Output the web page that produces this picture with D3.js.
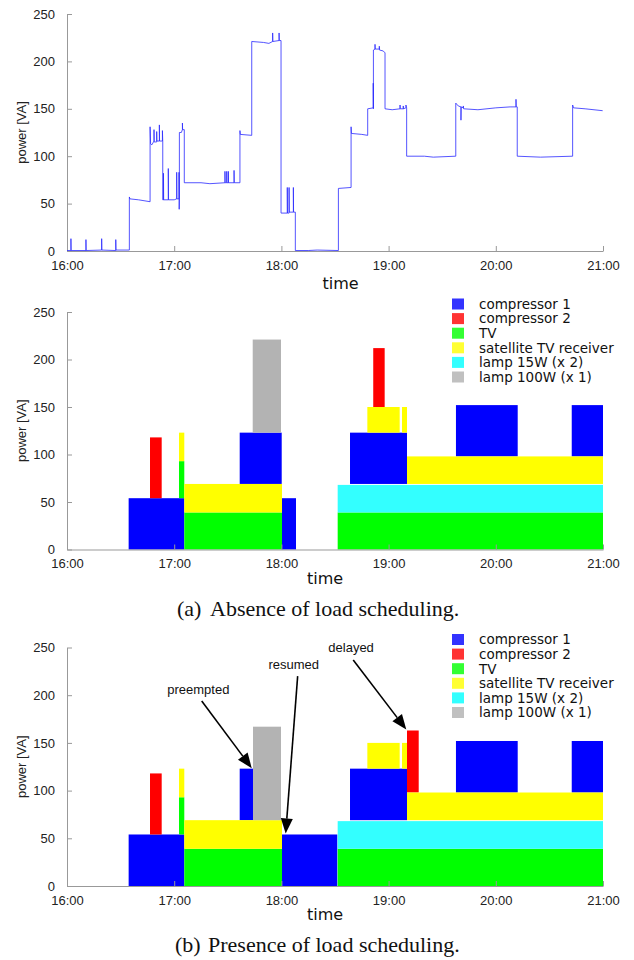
<!DOCTYPE html>
<html lang="en">
<head>
<meta charset="UTF-8">
<title>Load scheduling</title>
<script src="https://d3js.org/d3.v7.min.js"></script>
<style>
  body { margin: 0; background: #fff; }
  svg { display: block; }
  .tick text { font-family: "Liberation Sans", Arial, sans-serif; font-size: 13px; fill: #222; }
  .domain, .tick line { stroke: #999; }
  .axis-title { font-family: "Liberation Sans", Arial, sans-serif; font-size: 13px; fill: #222; }
  .time-title { font-family: "DejaVu Sans", sans-serif; font-size: 16px; fill: #111; }
  .legend text { font-family: "DejaVu Sans", sans-serif; font-size: 13.5px; fill: #111; }
  .caption { font-family: "Liberation Serif", "Times New Roman", serif; font-size: 22px; fill: #111; }
  .note { font-family: "Liberation Sans", Arial, sans-serif; font-size: 13px; fill: #111; }
</style>
</head>
<body>
<svg width="634" height="960"></svg>
<script>
// time is in minutes after 16:00, power in VA
const xTicks = [0, 60, 120, 180, 240, 300];
const xTickLabels = ["16:00", "17:00", "18:00", "19:00", "20:00", "21:00"];
const yTicks = [0, 50, 100, 150, 200, 250];

const appliances = ["compressor 1", "compressor 2", "TV", "satellite TV receiver", "lamp 15W (x 2)", "lamp 100W (x 1)"];
const applianceColors = ["#0000ff", "#ff0000", "#00ff00", "#ffff00", "#33ffff", "#b3b3b3"];
const legendColors = ["#3333ff", "#ff3333", "#33ff33", "#ffff33", "#33ffff", "#c0c0c0"];

// measured power trace [minute, VA]
const powerTrace = [
  [0,0.5],[2.2,0.5],[2.2,13],[2.3,0.5],[10.6,0.5],[10.6,12],[10.7,0.5],[19.4,1],[19.4,13],[19.5,1],
  [27.3,0.5],[27.3,12],[27.4,1],[34.9,1],[34.9,57],[35.2,55],[40,54],[46.5,52],[46.5,131],[46.8,113],
  [47.5,112],[48.7,116],[48.7,128],[48.8,115],[50.2,115],[50.2,126],[50.3,116],[51.7,116],[51.7,133],
  [51.8,116],[53.4,116],[53.4,127],[53.6,115],[53.6,54],[54,54],[54,82],[54.1,54],[56.7,54],[56.7,87],
  [56.8,54],[60,54],[61.4,55],[61.4,83],[61.5,55],[62.7,55],[62.7,83],[62.8,44],[62.9,55],[62.9,125],
  [64,125],[64.6,128],[64.6,135],[64.7,128],[65.65,128],[65.65,72],[75,72],[80,71],[88.4,72],[88.4,84],
  [88.5,72],[89.4,72],[89.4,84],[89.5,72],[90.3,72],[90.3,84],[90.4,72],[93.5,72],[93.5,85],[93.6,72],
  [96.8,72],[96.8,127],[97,123],[103.4,122],[103.4,221],[110,220],[113,219],[115.1,221],[115.1,230],
  [115.2,221],[118.7,222],[118.7,230],[118.8,222],[119.8,222],[119.8,40],[123.3,40],[123.3,67],[123.4,40],
  [124.3,40],[124.3,67],[124.4,41],[126.7,41],[126.7,67],[126.8,41],[127.8,41],[127.8,0.5],[135,0.5],
  [140,1],[151.9,0.5],[151.9,66],[159,67],[159,131],[159.2,124],[165,123],[168.3,122],[168.3,150],
  [171.4,151],[171.4,177],[171.5,150],[171.5,212],[172.4,213],[172.4,218],[172.5,213],[174.8,213],
  [174.8,216],[174.9,212],[177,211],[178,209],[178,150],[182,149],[186.4,150],[186.4,154],[186.5,150],
  [188.2,150],[188.2,153],[188.3,150],[189.7,151],[189.7,154],[190.1,151],[190.1,100],[200,100],
  [205,99],[217.6,100],[217.6,156],[219,153],[220.5,152],[220.5,138],[220.6,152],[221.8,151],[221.8,153],
  [222,150],[230,149],[240,151],[248,152],[251.3,152],[251.3,160],[251.4,152],[252,152],[252,100],
  [265,99],[283,100],[283,154],[283.5,151],[290,150],[299.8,148]
];

// appliance intervals [start, end, from VA, to VA]
const comp1Absent = [[34.5,65.65,0,54],[96.66,120.17,69,123],[120.34,128.17,0,54],[158.4,190.3,69,123],[217.7,252.26,98,152],[282.5,300,98,152]];
const comp1Present = [[34.5,65.65,0,54],[96.66,104.1,69,123],[120.34,151.3,0,54],[158.4,190.3,69,123],[217.7,252.26,98,152],[282.5,300,98,152]];
const comp2Absent = [[46.46,53.0,54,118],[171.4,177.8,150,212]];
const comp2Present = [[46.46,53.0,54,118],[190.3,196.85,98,163]];
const tvLoad = [[62.69,65.65,54,93],[65.65,120.34,0,39],[151.5,300,0,39]];
const satLoad = [[62.69,65.65,93,123],[65.65,120.34,39,69],[168.1,186.2,123,150],[187.5,190.3,123,150],[190.3,300,69,98]];
const lamp15Load = [[151.5,300,39,68]];
const lamp100Absent = [[103.94,119.78,123,221]];
const lamp100Present = [[104.1,119.78,69,167]];

// annotations: text anchor, arrow tail, arrow tip  [minute, VA]
const notes = [
  { label: "preempted", at: [73.5, 201], tail: [75.4, 194], tip: [103.4, 123.5] },
  { label: "resumed", at: [126.9, 227], tail: [129.1, 220], tip: [122.4, 55] },
  { label: "delayed", at: [159, 245], tail: [160.2, 237], tip: [189.9, 164] }
];

const svg = d3.select("svg");
const x = d3.scaleLinear().domain([0, 300]).range([67, 603]);

svg.append("defs").append("clipPath").attr("id", "clipTop")
  .append("rect").attr("x", 67).attr("y", 0).attr("width", 536).attr("height", 252);

function drawAxes(y, y0, labelDy, timeX, timeY) {
  const ax = svg.append("g").attr("transform", `translate(0,${y0})`)
    .call(d3.axisBottom(x).tickValues(xTicks).tickFormat((d, i) => xTickLabels[i])
      .tickSizeInner(-5).tickSizeOuter(0).tickPadding(labelDy));
  const ay = svg.append("g").attr("transform", "translate(67,0)")
    .call(d3.axisLeft(y).tickValues(yTicks).tickSizeInner(-5).tickSizeOuter(0).tickPadding(12));
  [ax, ay].forEach(g => g.attr("font-family", null).attr("font-size", null));

  const mid = (y.range()[0] + y.range()[1]) / 2;
  svg.append("text").attr("class", "axis-title")
    .attr("transform", `translate(26,${mid}) rotate(-90)`)
    .attr("text-anchor", "middle").text("power [VA]");
  svg.append("text").attr("class", "time-title")
    .attr("x", timeX).attr("y", timeY).attr("text-anchor", "middle").text("time");
}

function drawLegend(top) {
  const lg = svg.append("g").attr("class", "legend");
  appliances.forEach((name, i) => {
    const cy = top + i * 14.6;
    lg.append("rect").attr("x", 452).attr("y", cy - 5.5).attr("width", 12).attr("height", 11)
      .attr("fill", legendColors[i]);
    lg.append("text").attr("x", 479).attr("y", cy + 4.8).text(name);
  });
}

function drawLoads(y, sets) {
  const g = svg.append("g");
  sets.forEach(([rows, ci]) => {
    g.selectAll(null).data(rows).join("rect")
      .attr("x", d => x(d[0]))
      .attr("width", d => x(d[1]) - x(d[0]))
      .attr("y", d => y(d[3]))
      .attr("height", d => y(d[2]) - y(d[3]))
      .attr("fill", applianceColors[ci]);
  });
}

// ---- top: measured power
const yTop = d3.scaleLinear().domain([0, 250]).range([251, 14]);
drawAxes(yTop, 251, 10, 340.5, 289);
svg.append("path")
  .datum(powerTrace)
  .attr("clip-path", "url(#clipTop)")
  .attr("fill", "none")
  .attr("stroke", "#2a2aff")
  .attr("stroke-width", 0.8)
  .attr("d", d3.line().x(d => x(d[0])).y(d => yTop(d[1])));

// ---- middle: absence of scheduling
const yMid = d3.scaleLinear().domain([0, 250]).range([549.5, 312]);
drawLoads(yMid, [[comp1Absent, 0], [comp2Absent, 1], [tvLoad, 2], [satLoad, 3], [lamp15Load, 4], [lamp100Absent, 5]]);
drawAxes(yMid, 549.5, 9.5, 325, 584);
drawLegend(yMid(250) - 8);
svg.append("text").attr("class", "caption").attr("x", 177).attr("y", 616).text("(a)");
svg.append("text").attr("class", "caption").attr("x", 210).attr("y", 616).text("Absence of load scheduling.");

// ---- bottom: presence of scheduling
const yBot = d3.scaleLinear().domain([0, 250]).range([886, 647.5]);
drawLoads(yBot, [[comp1Present, 0], [comp2Present, 1], [tvLoad, 2], [satLoad, 3], [lamp15Load, 4], [lamp100Present, 5]]);
drawAxes(yBot, 886, 10, 325, 920);
drawLegend(yBot(250) - 8);

notes.forEach(n => {
  svg.append("text").attr("class", "note").attr("text-anchor", "middle")
    .attr("x", x(n.at[0])).attr("y", yBot(n.at[1])).text(n.label);
  const x1 = x(n.tail[0]), y1 = yBot(n.tail[1]);
  const x2 = x(n.tip[0]), y2 = yBot(n.tip[1]);
  const len = Math.hypot(x2 - x1, y2 - y1);
  const ux = (x2 - x1) / len, uy = (y2 - y1) / len;
  const hl = 15, hw = 6;
  const bx = x2 - ux * hl, by = y2 - uy * hl;
  svg.append("line").attr("x1", x1).attr("y1", y1).attr("x2", bx).attr("y2", by)
    .attr("stroke", "#000").attr("stroke-width", 1.6);
  svg.append("path")
    .attr("d", `M${x2},${y2}L${bx - uy * hw},${by + ux * hw}L${bx + uy * hw},${by - ux * hw}Z`)
    .attr("fill", "#000");
});

svg.append("text").attr("class", "caption").attr("x", 175).attr("y", 952).text("(b)");
svg.append("text").attr("class", "caption").attr("x", 208).attr("y", 952).text("Presence of load scheduling.");
</script>
</body>
</html>
